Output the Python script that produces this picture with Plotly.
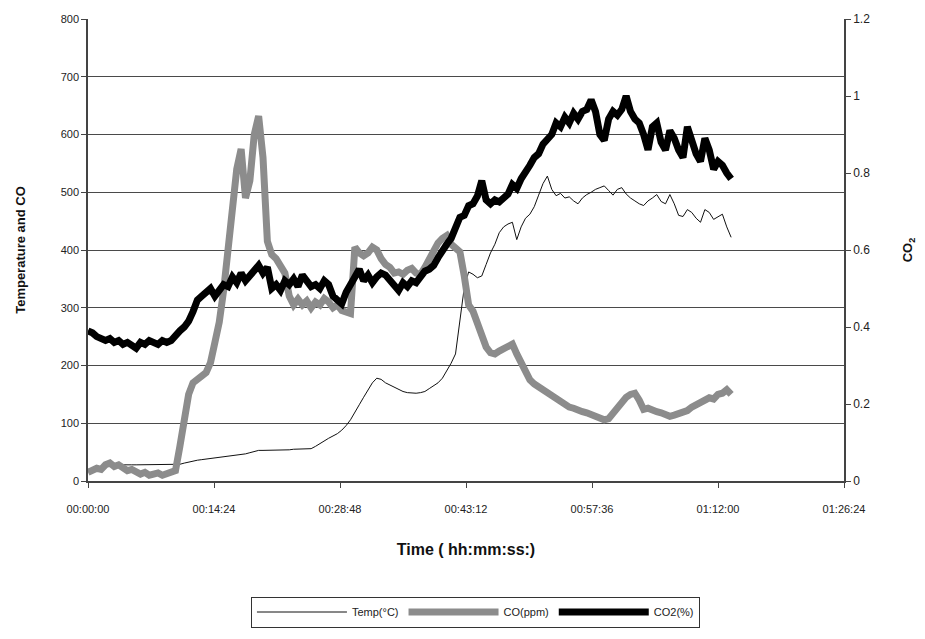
import plotly.graph_objects as go

# Sampling step of the recorded data (minutes)
STEP_MIN = 0.5

TEMP_C = [20, 21, 22, 24, 25, 27, 28, 28, 28, 28.5, 28, 28, 28, 28.5, 28, 28, 28, 28.5, 28, 28,
          28, 29, 31, 33, 35, 36, 37, 38, 38, 39, 40, 41, 42, 43, 45, 46, 47, 49, 51, 53,
          53, 53, 54, 54, 54, 54, 54, 55, 55, 55, 55, 56, 60, 65, 70, 74, 78, 82, 88, 96,
          106, 118, 132, 145, 158, 170, 178, 176, 170, 166, 162, 158, 155, 153, 152, 152, 153, 155, 160, 165,
          170, 178, 190, 204, 220, 280, 335, 362, 358, 352, 355, 375, 395, 410, 430, 440, 445, 448, 418, 440,
          455, 462, 475, 495, 515, 528, 505, 494, 498, 490, 492, 485, 480, 490, 496, 500, 505, 508, 511, 503,
          495, 505, 508, 497, 490, 485, 480, 477, 485, 490, 496, 484, 480, 496, 480, 460, 458, 470, 465, 455,
          448, 470, 465, 453, 458, 462, 440, 422]

CO_PPM = [15, 18, 22, 20, 28, 31, 25, 28, 22, 18, 20, 15, 12, 15, 10, 12, 14, 10, 12, 14,
          18, 60, 103, 150, 170, 178, 182, 188, 205, 240, 275, 330, 400, 460, 540, 575, 490, 520, 600, 632,
          560, 415, 392, 385, 375, 360, 320, 305, 315, 305, 312, 300, 310, 305, 316, 310, 300, 305, 295, 292,
          290, 405, 395, 390, 395, 405, 400, 385, 375, 370, 360, 362, 358, 365, 368, 360, 358, 370, 385, 398,
          412, 420, 425, 410, 402, 397, 355, 305, 294, 275, 250, 232, 222, 220, 225, 230, 235, 237, 220, 205,
          185, 175, 168, 163, 158, 150, 145, 140, 136, 132, 128, 126, 122, 120, 118, 115, 112, 108, 106, 108,
          118, 128, 138, 145, 150, 152, 140, 124, 126, 122, 120, 118, 115, 112, 114, 116, 118, 122, 128, 132,
          136, 140, 144, 142, 150, 152, 158, 150]

CO2_PCT = [0.39, 0.385, 0.375, 0.37, 0.365, 0.37, 0.36, 0.365, 0.355, 0.36, 0.35, 0.345, 0.36, 0.355, 0.365, 0.36, 0.355, 0.365, 0.36, 0.365,
           0.38, 0.39, 0.40, 0.415, 0.44, 0.47, 0.48, 0.49, 0.50, 0.48, 0.495, 0.51, 0.505, 0.53, 0.515, 0.54, 0.52, 0.535, 0.545, 0.56,
           0.54, 0.555, 0.50, 0.51, 0.495, 0.52, 0.51, 0.525, 0.505, 0.535, 0.52, 0.505, 0.51, 0.50, 0.52, 0.51, 0.48, 0.47, 0.46, 0.49,
           0.515, 0.53, 0.55, 0.52, 0.535, 0.515, 0.53, 0.54, 0.535, 0.52, 0.51, 0.495, 0.515, 0.505, 0.52, 0.515, 0.53, 0.545, 0.55, 0.56,
           0.58, 0.60, 0.615, 0.63, 0.66, 0.685, 0.69, 0.715, 0.72, 0.74, 0.78, 0.73, 0.72, 0.73, 0.725, 0.735, 0.745, 0.77, 0.76, 0.785,
           0.80, 0.82, 0.84, 0.85, 0.875, 0.885, 0.90, 0.93, 0.92, 0.945, 0.93, 0.955, 0.94, 0.96, 0.965, 0.99, 0.96, 0.90, 0.885, 0.94,
           0.96, 0.95, 0.965, 1.0, 0.96, 0.94, 0.93, 0.90, 0.86, 0.92, 0.93, 0.88, 0.86, 0.91, 0.89, 0.86, 0.84, 0.92, 0.88, 0.85,
           0.83, 0.89, 0.86, 0.81, 0.83, 0.82, 0.80, 0.785]

TIME_MIN = [i * STEP_MIN for i in range(len(TEMP_C))]

X_TICK_VALS = [0, 14.4, 28.8, 43.2, 57.6, 72.0, 86.4]
X_TICK_TEXT = ["00:00:00", "00:14:24", "00:28:48", "00:43:12", "00:57:36", "01:12:00", "01:26:24"]

SERIES_NAMES = ["Temp(°C)", "CO(ppm)", "CO2(%)"]

FONT = "Liberation Sans Narrow, Arial Narrow, Liberation Sans, Arial, sans-serif"
BOLD = "Liberation Sans, Arial, sans-serif"

fig = go.Figure()
fig.add_trace(go.Scatter(x=TIME_MIN, y=TEMP_C, name=SERIES_NAMES[0], mode="lines",
                         line=dict(color="#111111", width=1)))
fig.add_trace(go.Scatter(x=TIME_MIN, y=CO_PPM, name=SERIES_NAMES[1], mode="lines",
                         line=dict(color="#8c8c8c", width=7)))
fig.add_trace(go.Scatter(x=TIME_MIN, y=CO2_PCT, name=SERIES_NAMES[2], mode="lines", yaxis="y2",
                         line=dict(color="#000000", width=7)))

fig.update_layout(
    width=925, height=639,
    margin=dict(l=88, r=78, t=14, b=157),
    paper_bgcolor="white", plot_bgcolor="white",
    font=dict(family=FONT, size=11, color="#222"),
    xaxis=dict(range=[0, 86.4], tickvals=X_TICK_VALS, ticktext=X_TICK_TEXT,
               showgrid=False, zeroline=False, showline=True, linecolor="#444", linewidth=1.5,
               ticks="outside", ticklen=5, tickcolor="#444", ticklabelstandoff=12,
               tickfont=dict(family=FONT, size=11, color="#222"),
               title=dict(text="Time ( hh:mm:ss:)", standoff=30,
                          font=dict(family=BOLD, size=16, color="#111", weight="bold"))),
    yaxis=dict(range=[0, 800], dtick=100, showgrid=True, gridcolor="#4a4a4a", gridwidth=1.4,
               zeroline=False, showline=True, linecolor="#444", linewidth=1.5,
               ticks="outside", ticklen=5, tickcolor="#444",
               tickfont=dict(family=FONT, size=11, color="#222"),
               title=dict(text="Temperature and CO", standoff=32,
                          font=dict(family=BOLD, size=13, color="#111", weight="bold"))),
    yaxis2=dict(range=[0, 1.2], dtick=0.2, overlaying="y", side="right", showgrid=False,
                zeroline=False, showline=True, linecolor="#444", linewidth=1.5,
                ticks="outside", ticklen=5, tickcolor="#444",
                tickfont=dict(family=FONT, size=12, color="#222"),
                title=dict(text="CO<sub>2</sub>", standoff=34,
                           font=dict(family=BOLD, size=13, color="#111", weight="bold"))),
    legend=dict(orientation="h", x=0.5125, xanchor="center", y=-0.25, yanchor="top",
                bordercolor="#333", borderwidth=1, bgcolor="white",
                font=dict(family=FONT, size=11, color="#222"), itemwidth=90,
                tracegroupgap=0),
    showlegend=True,
)

fig.write_html("out.html")
